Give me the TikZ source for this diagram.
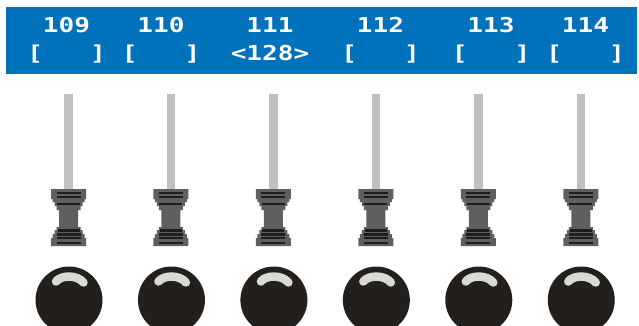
\documentclass[tikz,border=0pt]{standalone}
\usepackage{fontspec}
\newfontfamily\lblfont[FakeStretch=1.27]{DejaVu Sans Mono}
\definecolor{bandblue}{RGB}{0,114,188}
\definecolor{stemgray}{RGB}{192,192,192}
\definecolor{fadergray}{RGB}{95,95,95}
\definecolor{stripe}{RGB}{30,30,30}
\definecolor{knobblack}{RGB}{35,31,28}
\definecolor{shine}{RGB}{217,217,214}
\begin{document}
\begin{tikzpicture}[x=1pt,y=-1pt,
  lbl/.style={text=white,font=\lblfont\bfseries\fontsize{20.5}{20.5}\selectfont,inner sep=0pt,anchor=base},
  stembar/.style={fill=stemgray,draw=none},
  faderbody/.style={fill=fadergray,draw=none},
  stripebar/.style={fill=stripe,draw=none},
  knob/.style={circle,fill=knobblack,draw=none,minimum size=67pt,inner sep=0pt},
  shinebar/.style={draw=shine,line width=8.5pt,line cap=round}]
\useasboundingbox (0,0) rectangle (639,326);
\fill[bandblue] (6,7) rectangle (637,74);
\foreach \i/\cx/\tx/\num/\val in {0/68.5/66.5/109/{[\phantom{000}]},1/170.95/161/110/{[\phantom{000}]},2/273.4/270/111/{<128>},3/375.85/380.5/112/{[\phantom{000}]},4/478.3/491/113/{[\phantom{000}]},5/580.75/585.5/114/{[\phantom{000}]}}{
  \node[lbl] (num\i) at (\tx,33) {\num};
  \node[lbl] (val\i) at (\tx,60.5) {\val};
  \begin{scope}[shift={(\cx,0)}]
    \fill[stembar] (-4.2,94) rectangle (4.2,190);
    \fill[faderbody] (-17.5,189) -- (17.5,189) -- (17.5,199) -- (16,199) -- (16,202) -- (14,202) -- (14,206) -- (12,206) -- (12,210) -- (9.5,210) -- (9.5,227) -- (12,227) -- (12,230) -- (14,230) -- (14,234) -- (16,234) -- (16,238) -- (17.5,238) -- (17.5,246) -- (-17.5,246) -- (-17.5,238) -- (-16,238) -- (-16,234) -- (-14,234) -- (-14,230) -- (-12,230) -- (-12,227) -- (-9.5,227) -- (-9.5,210) -- (-12,210) -- (-12,206) -- (-14,206) -- (-14,202) -- (-16,202) -- (-16,199) -- (-17.5,199) -- cycle;
    \fill[stripebar] (-12,191.7) rectangle (12,194);
    \fill[stripebar] (-12,195.7) rectangle (12,198);
    \fill[stripebar] (-11.5,202.7) rectangle (11.5,204.8);
    \fill[stripebar] (-11,229.3) rectangle (11,231.5);
    \fill[stripebar] (-12,233.3) rectangle (12,235.5);
    \fill[stripebar] (-12,237.3) rectangle (12,239.4);
    \fill[stripebar] (-12,241.7) rectangle (12,243.8);
    \node[knob] (knob\i) at (0.5,300) {};
    \draw[shinebar] ([shift={(-13,-18.5)}]knob\i.center) .. controls ([shift={(-8,-25)}]knob\i.center) and ([shift={(8,-25.5)}]knob\i.center) .. ([shift={(14.5,-17.5)}]knob\i.center);
  \end{scope}
}
\end{tikzpicture}
\end{document}
